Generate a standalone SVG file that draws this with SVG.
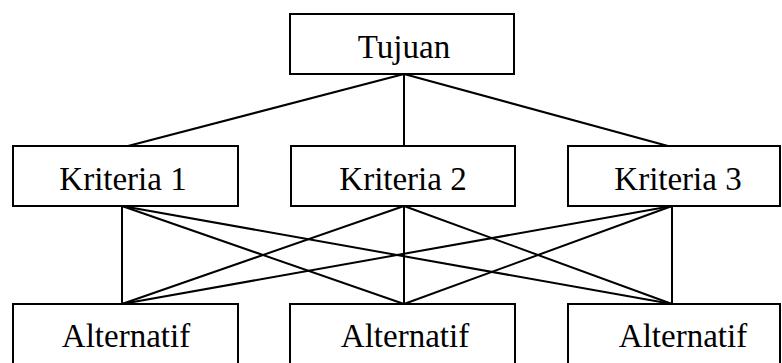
<svg xmlns="http://www.w3.org/2000/svg" width="782" height="363" viewBox="0 0 782 363">
<style>
.box{fill:#fff;stroke:#000;stroke-width:2}
.lbl{font-family:"Liberation Serif","Times New Roman",serif;font-size:33px;fill:#000;text-anchor:middle}
.con line{stroke:#000;stroke-width:2}
</style>
<rect width="782" height="363" fill="#fff"/>
<g class="con">
<line x1="404" y1="74" x2="128" y2="146"/>
<line x1="404" y1="74" x2="404" y2="146"/>
<line x1="404" y1="74" x2="668" y2="146"/>
<line x1="122" y1="206" x2="122" y2="304"/>
<line x1="122" y1="206" x2="404" y2="304"/>
<line x1="122" y1="206" x2="672" y2="304"/>
<line x1="404" y1="206" x2="122" y2="304"/>
<line x1="404" y1="206" x2="404" y2="304"/>
<line x1="404" y1="206" x2="672" y2="304"/>
<line x1="672" y1="206" x2="122" y2="304"/>
<line x1="672" y1="206" x2="404" y2="304"/>
<line x1="672" y1="206" x2="672" y2="304"/>
</g>
<g id="tujuan"><rect class="box" x="290" y="14" width="224" height="60"/><text class="lbl" x="404" y="58">Tujuan</text></g>
<g id="kriteria1"><rect class="box" x="13" y="146" width="225" height="60"/><text class="lbl" x="123" y="190">Kriteria 1</text></g>
<g id="kriteria2"><rect class="box" x="291" y="146" width="224" height="60"/><text class="lbl" x="403" y="190">Kriteria 2</text></g>
<g id="kriteria3"><rect class="box" x="568" y="146" width="212" height="60"/><text class="lbl" x="678" y="190">Kriteria 3</text></g>
<g id="alternatif1"><rect class="box" x="13" y="304" width="225" height="70"/><text class="lbl" x="126" y="347">Alternatif</text></g>
<g id="alternatif2"><rect class="box" x="290" y="304" width="225" height="70"/><text class="lbl" x="405" y="347">Alternatif</text></g>
<g id="alternatif3"><rect class="box" x="568" y="304" width="212" height="70"/><text class="lbl" x="683" y="347">Alternatif</text></g>
</svg>
